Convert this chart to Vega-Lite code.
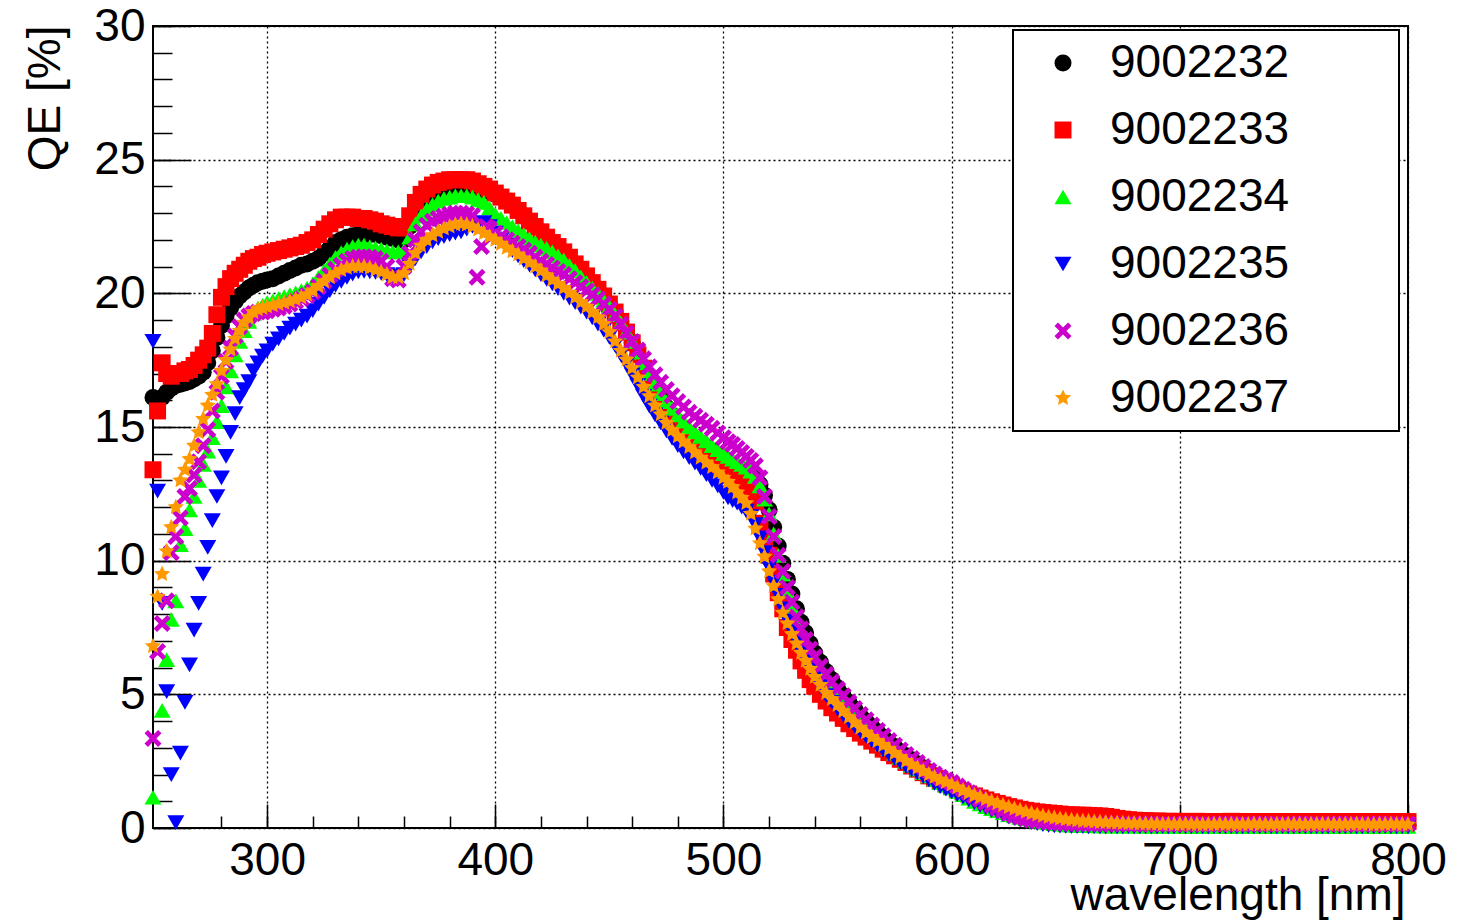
{
"$schema": "https://vega.github.io/schema/vega-lite/v6.json",
"width": 1255,
"height": 802,
"autosize": "none",
"padding": {"left": 153, "top": 26, "right": 60, "bottom": 93},
"background": "white",
"data": {"values": [
{"id":9002232,"wl":250,"qe":16.1},{"id":9002232,"wl":252,"qe":16.0},{"id":9002232,"wl":254,"qe":16.1},{"id":9002232,"wl":256,"qe":16.3},{"id":9002232,"wl":258,"qe":16.45},{"id":9002232,"wl":260,"qe":16.55},{"id":9002232,"wl":262,"qe":16.6},{"id":9002232,"wl":264,"qe":16.65},{"id":9002232,"wl":266,"qe":16.7},{"id":9002232,"wl":268,"qe":16.8},{"id":9002232,"wl":270,"qe":16.9},{"id":9002232,"wl":272,"qe":17.05},{"id":9002232,"wl":274,"qe":17.4},{"id":9002232,"wl":276,"qe":17.85},{"id":9002232,"wl":278,"qe":18.35},{"id":9002232,"wl":280,"qe":18.8},{"id":9002232,"wl":282,"qe":19.15},{"id":9002232,"wl":284,"qe":19.45},{"id":9002232,"wl":286,"qe":19.7},{"id":9002232,"wl":288,"qe":19.9},{"id":9002232,"wl":290,"qe":20.05},{"id":9002232,"wl":292,"qe":20.2},{"id":9002232,"wl":294,"qe":20.3},{"id":9002232,"wl":296,"qe":20.4},{"id":9002232,"wl":298,"qe":20.45},{"id":9002232,"wl":300,"qe":20.5},
{"id":9002232,"wl":302.5,"qe":20.55},{"id":9002232,"wl":305,"qe":20.65},{"id":9002232,"wl":307.5,"qe":20.75},{"id":9002232,"wl":310,"qe":20.85},{"id":9002232,"wl":312.5,"qe":20.95},{"id":9002232,"wl":315,"qe":21.05},{"id":9002232,"wl":317.5,"qe":21.1},{"id":9002232,"wl":320,"qe":21.2},{"id":9002232,"wl":322.5,"qe":21.3},{"id":9002232,"wl":325,"qe":21.5},{"id":9002232,"wl":327.5,"qe":21.7},{"id":9002232,"wl":330,"qe":21.9},{"id":9002232,"wl":332.5,"qe":22.0},{"id":9002232,"wl":335,"qe":22.1},{"id":9002232,"wl":337.5,"qe":22.15},{"id":9002232,"wl":340,"qe":22.2},{"id":9002232,"wl":342.5,"qe":22.2},{"id":9002232,"wl":345,"qe":22.2},{"id":9002232,"wl":347.5,"qe":22.2},{"id":9002232,"wl":350,"qe":22.15},{"id":9002232,"wl":352.5,"qe":22.1},{"id":9002232,"wl":355,"qe":22.05},{"id":9002232,"wl":357.5,"qe":22.0},{"id":9002232,"wl":360,"qe":22.0},{"id":9002232,"wl":362.5,"qe":22.5},{"id":9002232,"wl":365,"qe":23.05},{"id":9002232,"wl":367.5,"qe":23.35},{"id":9002232,"wl":370,"qe":23.55},{"id":9002232,"wl":372.5,"qe":23.7},{"id":9002232,"wl":375,"qe":23.85},{"id":9002232,"wl":377.5,"qe":23.95},{"id":9002232,"wl":380,"qe":24.0},{"id":9002232,"wl":382.5,"qe":24.0},{"id":9002232,"wl":385,"qe":24.0},{"id":9002232,"wl":387.5,"qe":24.0},{"id":9002232,"wl":390,"qe":23.95},{"id":9002232,"wl":392.5,"qe":23.9},{"id":9002232,"wl":395,"qe":23.85},{"id":9002232,"wl":397.5,"qe":23.8},{"id":9002232,"wl":400,"qe":23.7},{"id":9002232,"wl":402.5,"qe":23.6},{"id":9002232,"wl":405,"qe":23.45},{"id":9002232,"wl":407.5,"qe":23.3},{"id":9002232,"wl":410,"qe":23.1},{"id":9002232,"wl":412.5,"qe":22.9},{"id":9002232,"wl":415,"qe":22.7},{"id":9002232,"wl":417.5,"qe":22.5},{"id":9002232,"wl":420,"qe":22.3},{"id":9002232,"wl":422.5,"qe":22.1},{"id":9002232,"wl":425,"qe":21.9},{"id":9002232,"wl":427.5,"qe":21.75},{"id":9002232,"wl":430,"qe":21.55},{"id":9002232,"wl":432.5,"qe":21.35},{"id":9002232,"wl":435,"qe":21.1},{"id":9002232,"wl":437.5,"qe":20.9},{"id":9002232,"wl":440,"qe":20.65},{"id":9002232,"wl":442.5,"qe":20.4},{"id":9002232,"wl":445,"qe":20.15},{"id":9002232,"wl":447.5,"qe":19.9},{"id":9002232,"wl":450,"qe":19.6},{"id":9002232,"wl":452.5,"qe":19.3},{"id":9002232,"wl":455,"qe":18.95},{"id":9002232,"wl":457.5,"qe":18.55},{"id":9002232,"wl":460,"qe":18.15},{"id":9002232,"wl":462.5,"qe":17.7},{"id":9002232,"wl":465,"qe":17.2},{"id":9002232,"wl":467.5,"qe":16.8},{"id":9002232,"wl":470,"qe":16.4},{"id":9002232,"wl":472.5,"qe":16.05},{"id":9002232,"wl":475,"qe":15.75},{"id":9002232,"wl":477.5,"qe":15.45},{"id":9002232,"wl":480,"qe":15.2},{"id":9002232,"wl":482.5,"qe":14.95},{"id":9002232,"wl":485,"qe":14.75},{"id":9002232,"wl":487.5,"qe":14.55},{"id":9002232,"wl":490,"qe":14.4},{"id":9002232,"wl":492.5,"qe":14.25},{"id":9002232,"wl":495,"qe":14.1},{"id":9002232,"wl":497.5,"qe":13.95},{"id":9002232,"wl":500,"qe":13.8},
{"id":9002232,"wl":502,"qe":13.7},{"id":9002232,"wl":504,"qe":13.6},{"id":9002232,"wl":506,"qe":13.5},{"id":9002232,"wl":508,"qe":13.4},{"id":9002232,"wl":510,"qe":13.3},{"id":9002232,"wl":512,"qe":13.2},{"id":9002232,"wl":514,"qe":13.05},{"id":9002232,"wl":516,"qe":12.85},{"id":9002232,"wl":518,"qe":12.45},{"id":9002232,"wl":520,"qe":11.9},{"id":9002232,"wl":522,"qe":11.25},{"id":9002232,"wl":524,"qe":10.55},{"id":9002232,"wl":526,"qe":9.9},{"id":9002232,"wl":528,"qe":9.3},{"id":9002232,"wl":530,"qe":8.75},{"id":9002232,"wl":532,"qe":8.2},{"id":9002232,"wl":534,"qe":7.7},{"id":9002232,"wl":536,"qe":7.3},{"id":9002232,"wl":538,"qe":6.9},{"id":9002232,"wl":540,"qe":6.55},
{"id":9002232,"wl":542.5,"qe":6.2},{"id":9002232,"wl":545,"qe":5.85},{"id":9002232,"wl":547.5,"qe":5.55},{"id":9002232,"wl":550,"qe":5.25},{"id":9002232,"wl":552.5,"qe":4.95},{"id":9002232,"wl":555,"qe":4.7},{"id":9002232,"wl":557.5,"qe":4.45},{"id":9002232,"wl":560,"qe":4.2},{"id":9002232,"wl":562.5,"qe":4.0},{"id":9002232,"wl":565,"qe":3.8},{"id":9002232,"wl":567.5,"qe":3.6},{"id":9002232,"wl":570,"qe":3.4},{"id":9002232,"wl":572.5,"qe":3.2},{"id":9002232,"wl":575,"qe":3.05},{"id":9002232,"wl":577.5,"qe":2.85},{"id":9002232,"wl":580,"qe":2.7},{"id":9002232,"wl":582.5,"qe":2.55},{"id":9002232,"wl":585,"qe":2.4},{"id":9002232,"wl":587.5,"qe":2.25},{"id":9002232,"wl":590,"qe":2.1},{"id":9002232,"wl":592.5,"qe":1.95},{"id":9002232,"wl":595,"qe":1.85},{"id":9002232,"wl":597.5,"qe":1.7},{"id":9002232,"wl":600,"qe":1.6},{"id":9002232,"wl":602.5,"qe":1.5},{"id":9002232,"wl":605,"qe":1.4},{"id":9002232,"wl":607.5,"qe":1.25},{"id":9002232,"wl":610,"qe":1.15},{"id":9002232,"wl":612.5,"qe":1.05},{"id":9002232,"wl":615,"qe":0.95},{"id":9002232,"wl":617.5,"qe":0.85},{"id":9002232,"wl":620,"qe":0.75},{"id":9002232,"wl":622.5,"qe":0.68},{"id":9002232,"wl":625,"qe":0.6},{"id":9002232,"wl":627.5,"qe":0.52},{"id":9002232,"wl":630,"qe":0.45},{"id":9002232,"wl":632.5,"qe":0.4},{"id":9002232,"wl":635,"qe":0.35},{"id":9002232,"wl":637.5,"qe":0.3},{"id":9002232,"wl":640,"qe":0.27},{"id":9002232,"wl":642.5,"qe":0.24},{"id":9002232,"wl":645,"qe":0.22},{"id":9002232,"wl":647.5,"qe":0.2},{"id":9002232,"wl":650,"qe":0.18},{"id":9002232,"wl":652.5,"qe":0.17},{"id":9002232,"wl":655,"qe":0.16},{"id":9002232,"wl":657.5,"qe":0.16},{"id":9002232,"wl":660,"qe":0.15},{"id":9002232,"wl":662.5,"qe":0.14},{"id":9002232,"wl":665,"qe":0.14},{"id":9002232,"wl":667.5,"qe":0.13},{"id":9002232,"wl":670,"qe":0.13},{"id":9002232,"wl":672.5,"qe":0.13},{"id":9002232,"wl":675,"qe":0.12},{"id":9002232,"wl":677.5,"qe":0.13},{"id":9002232,"wl":680,"qe":0.12},{"id":9002232,"wl":682.5,"qe":0.12},{"id":9002232,"wl":685,"qe":0.11},{"id":9002232,"wl":687.5,"qe":0.12},{"id":9002232,"wl":690,"qe":0.11},{"id":9002232,"wl":692.5,"qe":0.12},{"id":9002232,"wl":695,"qe":0.11},{"id":9002232,"wl":697.5,"qe":0.11},{"id":9002232,"wl":700,"qe":0.1},{"id":9002232,"wl":702.5,"qe":0.11},{"id":9002232,"wl":705,"qe":0.1},{"id":9002232,"wl":707.5,"qe":0.11},{"id":9002232,"wl":710,"qe":0.1},{"id":9002232,"wl":712.5,"qe":0.1},{"id":9002232,"wl":715,"qe":0.11},{"id":9002232,"wl":717.5,"qe":0.1},{"id":9002232,"wl":720,"qe":0.1},{"id":9002232,"wl":722.5,"qe":0.09},{"id":9002232,"wl":725,"qe":0.1},{"id":9002232,"wl":727.5,"qe":0.1},{"id":9002232,"wl":730,"qe":0.09},{"id":9002232,"wl":732.5,"qe":0.1},{"id":9002232,"wl":735,"qe":0.1},{"id":9002232,"wl":737.5,"qe":0.09},{"id":9002232,"wl":740,"qe":0.1},{"id":9002232,"wl":742.5,"qe":0.09},{"id":9002232,"wl":745,"qe":0.1},{"id":9002232,"wl":747.5,"qe":0.1},{"id":9002232,"wl":750,"qe":0.09},{"id":9002232,"wl":752.5,"qe":0.1},{"id":9002232,"wl":755,"qe":0.1},{"id":9002232,"wl":757.5,"qe":0.09},{"id":9002232,"wl":760,"qe":0.1},{"id":9002232,"wl":762.5,"qe":0.09},{"id":9002232,"wl":765,"qe":0.1},{"id":9002232,"wl":767.5,"qe":0.1},{"id":9002232,"wl":770,"qe":0.09},{"id":9002232,"wl":772.5,"qe":0.1},{"id":9002232,"wl":775,"qe":0.1},{"id":9002232,"wl":777.5,"qe":0.09},{"id":9002232,"wl":780,"qe":0.1},{"id":9002232,"wl":782.5,"qe":0.09},{"id":9002232,"wl":785,"qe":0.1},{"id":9002232,"wl":787.5,"qe":0.1},{"id":9002232,"wl":790,"qe":0.09},{"id":9002232,"wl":792.5,"qe":0.1},{"id":9002232,"wl":795,"qe":0.1},{"id":9002232,"wl":797.5,"qe":0.09},{"id":9002232,"wl":800,"qe":0.1},
{"id":9002233,"wl":250,"qe":13.4},{"id":9002233,"wl":252,"qe":15.6},{"id":9002233,"wl":254,"qe":17.4},{"id":9002233,"wl":256,"qe":17.0},{"id":9002233,"wl":258,"qe":16.9},{"id":9002233,"wl":260,"qe":17.0},{"id":9002233,"wl":262,"qe":17.0},{"id":9002233,"wl":264,"qe":17.1},{"id":9002233,"wl":266,"qe":17.15},{"id":9002233,"wl":268,"qe":17.3},{"id":9002233,"wl":270,"qe":17.5},{"id":9002233,"wl":272,"qe":17.7},{"id":9002233,"wl":274,"qe":17.95},{"id":9002233,"wl":276,"qe":18.5},{"id":9002233,"wl":278,"qe":19.2},{"id":9002233,"wl":280,"qe":19.85},{"id":9002233,"wl":282,"qe":20.25},{"id":9002233,"wl":284,"qe":20.55},{"id":9002233,"wl":286,"qe":20.75},{"id":9002233,"wl":288,"qe":20.9},{"id":9002233,"wl":290,"qe":21.05},{"id":9002233,"wl":292,"qe":21.2},{"id":9002233,"wl":294,"qe":21.3},{"id":9002233,"wl":296,"qe":21.35},{"id":9002233,"wl":298,"qe":21.45},{"id":9002233,"wl":300,"qe":21.5},
{"id":9002233,"wl":302.5,"qe":21.55},{"id":9002233,"wl":305,"qe":21.6},{"id":9002233,"wl":307.5,"qe":21.65},{"id":9002233,"wl":310,"qe":21.7},{"id":9002233,"wl":312.5,"qe":21.75},{"id":9002233,"wl":315,"qe":21.8},{"id":9002233,"wl":317.5,"qe":21.9},{"id":9002233,"wl":320,"qe":22.0},{"id":9002233,"wl":322.5,"qe":22.2},{"id":9002233,"wl":325,"qe":22.4},{"id":9002233,"wl":327.5,"qe":22.6},{"id":9002233,"wl":330,"qe":22.75},{"id":9002233,"wl":332.5,"qe":22.85},{"id":9002233,"wl":335,"qe":22.85},{"id":9002233,"wl":337.5,"qe":22.85},{"id":9002233,"wl":340,"qe":22.8},{"id":9002233,"wl":342.5,"qe":22.8},{"id":9002233,"wl":345,"qe":22.75},{"id":9002233,"wl":347.5,"qe":22.7},{"id":9002233,"wl":350,"qe":22.6},{"id":9002233,"wl":352.5,"qe":22.55},{"id":9002233,"wl":355,"qe":22.5},{"id":9002233,"wl":357.5,"qe":22.45},{"id":9002233,"wl":360,"qe":22.45},{"id":9002233,"wl":362.5,"qe":22.9},{"id":9002233,"wl":365,"qe":23.4},{"id":9002233,"wl":367.5,"qe":23.7},{"id":9002233,"wl":370,"qe":23.9},{"id":9002233,"wl":372.5,"qe":24.05},{"id":9002233,"wl":375,"qe":24.15},{"id":9002233,"wl":377.5,"qe":24.2},{"id":9002233,"wl":380,"qe":24.25},{"id":9002233,"wl":382.5,"qe":24.25},{"id":9002233,"wl":385,"qe":24.25},{"id":9002233,"wl":387.5,"qe":24.25},{"id":9002233,"wl":390,"qe":24.2},{"id":9002233,"wl":392.5,"qe":24.1},{"id":9002233,"wl":395,"qe":24.0},{"id":9002233,"wl":397.5,"qe":23.9},{"id":9002233,"wl":400,"qe":23.75},{"id":9002233,"wl":402.5,"qe":23.6},{"id":9002233,"wl":405,"qe":23.45},{"id":9002233,"wl":407.5,"qe":23.3},{"id":9002233,"wl":410,"qe":23.1},{"id":9002233,"wl":412.5,"qe":22.9},{"id":9002233,"wl":415,"qe":22.7},{"id":9002233,"wl":417.5,"qe":22.5},{"id":9002233,"wl":420,"qe":22.3},{"id":9002233,"wl":422.5,"qe":22.1},{"id":9002233,"wl":425,"qe":21.9},{"id":9002233,"wl":427.5,"qe":21.75},{"id":9002233,"wl":430,"qe":21.55},{"id":9002233,"wl":432.5,"qe":21.35},{"id":9002233,"wl":435,"qe":21.1},{"id":9002233,"wl":437.5,"qe":20.9},{"id":9002233,"wl":440,"qe":20.65},{"id":9002233,"wl":442.5,"qe":20.4},{"id":9002233,"wl":445,"qe":20.15},{"id":9002233,"wl":447.5,"qe":19.9},{"id":9002233,"wl":450,"qe":19.6},{"id":9002233,"wl":452.5,"qe":19.3},{"id":9002233,"wl":455,"qe":18.95},{"id":9002233,"wl":457.5,"qe":18.55},{"id":9002233,"wl":460,"qe":18.15},{"id":9002233,"wl":462.5,"qe":17.7},{"id":9002233,"wl":465,"qe":17.2},{"id":9002233,"wl":467.5,"qe":16.7},{"id":9002233,"wl":470,"qe":16.2},{"id":9002233,"wl":472.5,"qe":15.75},{"id":9002233,"wl":475,"qe":15.4},{"id":9002233,"wl":477.5,"qe":15.1},{"id":9002233,"wl":480,"qe":14.9},{"id":9002233,"wl":482.5,"qe":14.7},{"id":9002233,"wl":485,"qe":14.5},{"id":9002233,"wl":487.5,"qe":14.3},{"id":9002233,"wl":490,"qe":14.15},{"id":9002233,"wl":492.5,"qe":13.95},{"id":9002233,"wl":495,"qe":13.8},{"id":9002233,"wl":497.5,"qe":13.6},{"id":9002233,"wl":500,"qe":13.45},
{"id":9002233,"wl":502,"qe":13.3},{"id":9002233,"wl":504,"qe":13.2},{"id":9002233,"wl":506,"qe":13.1},{"id":9002233,"wl":508,"qe":13.0},{"id":9002233,"wl":510,"qe":12.9},{"id":9002233,"wl":512,"qe":12.7},{"id":9002233,"wl":514,"qe":12.2},{"id":9002233,"wl":516,"qe":11.4},{"id":9002233,"wl":518,"qe":10.8},{"id":9002233,"wl":520,"qe":10.2},{"id":9002233,"wl":522,"qe":9.5},{"id":9002233,"wl":524,"qe":8.8},{"id":9002233,"wl":526,"qe":8.2},{"id":9002233,"wl":528,"qe":7.5},{"id":9002233,"wl":530,"qe":7.05},{"id":9002233,"wl":532,"qe":6.65},{"id":9002233,"wl":534,"qe":6.25},{"id":9002233,"wl":536,"qe":5.9},{"id":9002233,"wl":538,"qe":5.55},{"id":9002233,"wl":540,"qe":5.3},
{"id":9002233,"wl":542.5,"qe":5.0},{"id":9002233,"wl":545,"qe":4.75},{"id":9002233,"wl":547.5,"qe":4.5},{"id":9002233,"wl":550,"qe":4.3},{"id":9002233,"wl":552.5,"qe":4.1},{"id":9002233,"wl":555,"qe":3.9},{"id":9002233,"wl":557.5,"qe":3.72},{"id":9002233,"wl":560,"qe":3.55},{"id":9002233,"wl":562.5,"qe":3.4},{"id":9002233,"wl":565,"qe":3.25},{"id":9002233,"wl":567.5,"qe":3.1},{"id":9002233,"wl":570,"qe":2.95},{"id":9002233,"wl":572.5,"qe":2.82},{"id":9002233,"wl":575,"qe":2.7},{"id":9002233,"wl":577.5,"qe":2.57},{"id":9002233,"wl":580,"qe":2.45},{"id":9002233,"wl":582.5,"qe":2.32},{"id":9002233,"wl":585,"qe":2.2},{"id":9002233,"wl":587.5,"qe":2.07},{"id":9002233,"wl":590,"qe":1.95},{"id":9002233,"wl":592.5,"qe":1.85},{"id":9002233,"wl":595,"qe":1.75},{"id":9002233,"wl":597.5,"qe":1.65},{"id":9002233,"wl":600,"qe":1.55},{"id":9002233,"wl":602.5,"qe":1.45},{"id":9002233,"wl":605,"qe":1.35},{"id":9002233,"wl":607.5,"qe":1.27},{"id":9002233,"wl":610,"qe":1.2},{"id":9002233,"wl":612.5,"qe":1.12},{"id":9002233,"wl":615,"qe":1.05},{"id":9002233,"wl":617.5,"qe":0.98},{"id":9002233,"wl":620,"qe":0.92},{"id":9002233,"wl":622.5,"qe":0.86},{"id":9002233,"wl":625,"qe":0.8},{"id":9002233,"wl":627.5,"qe":0.75},{"id":9002233,"wl":630,"qe":0.7},{"id":9002233,"wl":632.5,"qe":0.66},{"id":9002233,"wl":635,"qe":0.63},{"id":9002233,"wl":637.5,"qe":0.6},{"id":9002233,"wl":640,"qe":0.58},{"id":9002233,"wl":642.5,"qe":0.56},{"id":9002233,"wl":645,"qe":0.54},{"id":9002233,"wl":647.5,"qe":0.52},{"id":9002233,"wl":650,"qe":0.5},{"id":9002233,"wl":652.5,"qe":0.49},{"id":9002233,"wl":655,"qe":0.48},{"id":9002233,"wl":657.5,"qe":0.48},{"id":9002233,"wl":660,"qe":0.47},{"id":9002233,"wl":662.5,"qe":0.46},{"id":9002233,"wl":665,"qe":0.45},{"id":9002233,"wl":667.5,"qe":0.43},{"id":9002233,"wl":670,"qe":0.4},{"id":9002233,"wl":672.5,"qe":0.36},{"id":9002233,"wl":675,"qe":0.33},{"id":9002233,"wl":677.5,"qe":0.31},{"id":9002233,"wl":680,"qe":0.29},{"id":9002233,"wl":682.5,"qe":0.28},{"id":9002233,"wl":685,"qe":0.27},{"id":9002233,"wl":687.5,"qe":0.26},{"id":9002233,"wl":690,"qe":0.26},{"id":9002233,"wl":692.5,"qe":0.25},{"id":9002233,"wl":695,"qe":0.25},{"id":9002233,"wl":697.5,"qe":0.24},{"id":9002233,"wl":700,"qe":0.25},{"id":9002233,"wl":702.5,"qe":0.24},{"id":9002233,"wl":705,"qe":0.24},{"id":9002233,"wl":707.5,"qe":0.25},{"id":9002233,"wl":710,"qe":0.24},{"id":9002233,"wl":712.5,"qe":0.24},{"id":9002233,"wl":715,"qe":0.23},{"id":9002233,"wl":717.5,"qe":0.24},{"id":9002233,"wl":720,"qe":0.24},{"id":9002233,"wl":722.5,"qe":0.25},{"id":9002233,"wl":725,"qe":0.24},{"id":9002233,"wl":727.5,"qe":0.24},{"id":9002233,"wl":730,"qe":0.23},{"id":9002233,"wl":732.5,"qe":0.24},{"id":9002233,"wl":735,"qe":0.24},{"id":9002233,"wl":737.5,"qe":0.23},{"id":9002233,"wl":740,"qe":0.24},{"id":9002233,"wl":742.5,"qe":0.24},{"id":9002233,"wl":745,"qe":0.23},{"id":9002233,"wl":747.5,"qe":0.24},{"id":9002233,"wl":750,"qe":0.24},{"id":9002233,"wl":752.5,"qe":0.23},{"id":9002233,"wl":755,"qe":0.24},{"id":9002233,"wl":757.5,"qe":0.24},{"id":9002233,"wl":760,"qe":0.23},{"id":9002233,"wl":762.5,"qe":0.24},{"id":9002233,"wl":765,"qe":0.24},{"id":9002233,"wl":767.5,"qe":0.23},{"id":9002233,"wl":770,"qe":0.24},{"id":9002233,"wl":772.5,"qe":0.24},{"id":9002233,"wl":775,"qe":0.23},{"id":9002233,"wl":777.5,"qe":0.24},{"id":9002233,"wl":780,"qe":0.24},{"id":9002233,"wl":782.5,"qe":0.23},{"id":9002233,"wl":785,"qe":0.24},{"id":9002233,"wl":787.5,"qe":0.24},{"id":9002233,"wl":790,"qe":0.23},{"id":9002233,"wl":792.5,"qe":0.24},{"id":9002233,"wl":795,"qe":0.24},{"id":9002233,"wl":797.5,"qe":0.23},{"id":9002233,"wl":800,"qe":0.24},
{"id":9002234,"wl":250,"qe":1.15},{"id":9002234,"wl":254,"qe":4.4},{"id":9002234,"wl":256,"qe":6.3},{"id":9002234,"wl":258,"qe":7.8},{"id":9002234,"wl":260,"qe":8.5},{"id":9002234,"wl":262,"qe":10.6},{"id":9002234,"wl":264,"qe":11.2},{"id":9002234,"wl":266,"qe":11.9},{"id":9002234,"wl":268,"qe":12.4},{"id":9002234,"wl":270,"qe":13.0},{"id":9002234,"wl":272,"qe":13.6},{"id":9002234,"wl":274,"qe":14.1},{"id":9002234,"wl":276,"qe":14.6},{"id":9002234,"wl":278,"qe":15.2},{"id":9002234,"wl":280,"qe":15.8},{"id":9002234,"wl":282,"qe":16.5},{"id":9002234,"wl":284,"qe":17.1},{"id":9002234,"wl":286,"qe":17.7},{"id":9002234,"wl":288,"qe":18.2},{"id":9002234,"wl":290,"qe":18.6},{"id":9002234,"wl":292,"qe":18.95},{"id":9002234,"wl":294,"qe":19.25},{"id":9002234,"wl":296,"qe":19.45},{"id":9002234,"wl":298,"qe":19.55},{"id":9002234,"wl":300,"qe":19.65},
{"id":9002234,"wl":302.5,"qe":19.72},{"id":9002234,"wl":305,"qe":19.8},{"id":9002234,"wl":307.5,"qe":19.88},{"id":9002234,"wl":310,"qe":19.95},{"id":9002234,"wl":312.5,"qe":20.02},{"id":9002234,"wl":315,"qe":20.1},{"id":9002234,"wl":317.5,"qe":20.2},{"id":9002234,"wl":320,"qe":20.35},{"id":9002234,"wl":322.5,"qe":20.6},{"id":9002234,"wl":325,"qe":20.85},{"id":9002234,"wl":327.5,"qe":21.1},{"id":9002234,"wl":330,"qe":21.35},{"id":9002234,"wl":332.5,"qe":21.52},{"id":9002234,"wl":335,"qe":21.65},{"id":9002234,"wl":337.5,"qe":21.75},{"id":9002234,"wl":340,"qe":21.8},{"id":9002234,"wl":342.5,"qe":21.8},{"id":9002234,"wl":345,"qe":21.75},{"id":9002234,"wl":347.5,"qe":21.7},{"id":9002234,"wl":350,"qe":21.65},{"id":9002234,"wl":352.5,"qe":21.6},{"id":9002234,"wl":355,"qe":21.55},{"id":9002234,"wl":357.5,"qe":21.55},{"id":9002234,"wl":360,"qe":21.6},{"id":9002234,"wl":362.5,"qe":22.1},{"id":9002234,"wl":365,"qe":22.6},{"id":9002234,"wl":367.5,"qe":22.9},{"id":9002234,"wl":370,"qe":23.15},{"id":9002234,"wl":372.5,"qe":23.32},{"id":9002234,"wl":375,"qe":23.45},{"id":9002234,"wl":377.5,"qe":23.55},{"id":9002234,"wl":380,"qe":23.6},{"id":9002234,"wl":382.5,"qe":23.65},{"id":9002234,"wl":385,"qe":23.65},{"id":9002234,"wl":387.5,"qe":23.65},{"id":9002234,"wl":390,"qe":23.6},{"id":9002234,"wl":392.5,"qe":23.5},{"id":9002234,"wl":395,"qe":23.4},{"id":9002234,"wl":397.5,"qe":23.2},{"id":9002234,"wl":400,"qe":22.95},{"id":9002234,"wl":402.5,"qe":22.8},{"id":9002234,"wl":405,"qe":22.65},{"id":9002234,"wl":407.5,"qe":22.5},{"id":9002234,"wl":410,"qe":22.35},{"id":9002234,"wl":412.5,"qe":22.2},{"id":9002234,"wl":415,"qe":22.05},{"id":9002234,"wl":417.5,"qe":21.92},{"id":9002234,"wl":420,"qe":21.8},{"id":9002234,"wl":422.5,"qe":21.68},{"id":9002234,"wl":425,"qe":21.55},{"id":9002234,"wl":427.5,"qe":21.4},{"id":9002234,"wl":430,"qe":21.25},{"id":9002234,"wl":432.5,"qe":21.05},{"id":9002234,"wl":435,"qe":20.85},{"id":9002234,"wl":437.5,"qe":20.62},{"id":9002234,"wl":440,"qe":20.4},{"id":9002234,"wl":442.5,"qe":20.2},{"id":9002234,"wl":445,"qe":20.0},{"id":9002234,"wl":447.5,"qe":19.75},{"id":9002234,"wl":450,"qe":19.5},{"id":9002234,"wl":452.5,"qe":19.2},{"id":9002234,"wl":455,"qe":18.9},{"id":9002234,"wl":457.5,"qe":18.55},{"id":9002234,"wl":460,"qe":18.2},{"id":9002234,"wl":462.5,"qe":17.8},{"id":9002234,"wl":465,"qe":17.4},{"id":9002234,"wl":467.5,"qe":17.0},{"id":9002234,"wl":470,"qe":16.6},{"id":9002234,"wl":472.5,"qe":16.25},{"id":9002234,"wl":475,"qe":15.95},{"id":9002234,"wl":477.5,"qe":15.7},{"id":9002234,"wl":480,"qe":15.45},{"id":9002234,"wl":482.5,"qe":15.22},{"id":9002234,"wl":485,"qe":15.0},{"id":9002234,"wl":487.5,"qe":14.82},{"id":9002234,"wl":490,"qe":14.65},{"id":9002234,"wl":492.5,"qe":14.48},{"id":9002234,"wl":495,"qe":14.3},{"id":9002234,"wl":497.5,"qe":14.15},{"id":9002234,"wl":500,"qe":14.0},
{"id":9002234,"wl":502,"qe":13.9},{"id":9002234,"wl":504,"qe":13.8},{"id":9002234,"wl":506,"qe":13.7},{"id":9002234,"wl":508,"qe":13.6},{"id":9002234,"wl":510,"qe":13.5},{"id":9002234,"wl":512,"qe":13.35},{"id":9002234,"wl":514,"qe":13.15},{"id":9002234,"wl":516,"qe":12.8},{"id":9002234,"wl":518,"qe":12.3},{"id":9002234,"wl":520,"qe":11.75},{"id":9002234,"wl":522,"qe":11.0},{"id":9002234,"wl":524,"qe":10.2},{"id":9002234,"wl":526,"qe":9.5},{"id":9002234,"wl":528,"qe":8.85},{"id":9002234,"wl":530,"qe":8.25},{"id":9002234,"wl":532,"qe":7.75},{"id":9002234,"wl":534,"qe":7.3},{"id":9002234,"wl":536,"qe":6.9},{"id":9002234,"wl":538,"qe":6.55},{"id":9002234,"wl":540,"qe":6.2},
{"id":9002234,"wl":542.5,"qe":5.85},{"id":9002234,"wl":545,"qe":5.5},{"id":9002234,"wl":547.5,"qe":5.2},{"id":9002234,"wl":550,"qe":4.9},{"id":9002234,"wl":552.5,"qe":4.65},{"id":9002234,"wl":555,"qe":4.4},{"id":9002234,"wl":557.5,"qe":4.17},{"id":9002234,"wl":560,"qe":3.95},{"id":9002234,"wl":562.5,"qe":3.75},{"id":9002234,"wl":565,"qe":3.55},{"id":9002234,"wl":567.5,"qe":3.35},{"id":9002234,"wl":570,"qe":3.15},{"id":9002234,"wl":572.5,"qe":2.97},{"id":9002234,"wl":575,"qe":2.8},{"id":9002234,"wl":577.5,"qe":2.65},{"id":9002234,"wl":580,"qe":2.5},{"id":9002234,"wl":582.5,"qe":2.35},{"id":9002234,"wl":585,"qe":2.2},{"id":9002234,"wl":587.5,"qe":2.07},{"id":9002234,"wl":590,"qe":1.95},{"id":9002234,"wl":592.5,"qe":1.82},{"id":9002234,"wl":595,"qe":1.7},{"id":9002234,"wl":597.5,"qe":1.6},{"id":9002234,"wl":600,"qe":1.5},{"id":9002234,"wl":602.5,"qe":1.37},{"id":9002234,"wl":605,"qe":1.25},{"id":9002234,"wl":607.5,"qe":1.12},{"id":9002234,"wl":610,"qe":1.0},{"id":9002234,"wl":612.5,"qe":0.9},{"id":9002234,"wl":615,"qe":0.8},{"id":9002234,"wl":617.5,"qe":0.72},{"id":9002234,"wl":620,"qe":0.65},{"id":9002234,"wl":622.5,"qe":0.57},{"id":9002234,"wl":625,"qe":0.5},{"id":9002234,"wl":627.5,"qe":0.45},{"id":9002234,"wl":630,"qe":0.4},{"id":9002234,"wl":632.5,"qe":0.35},{"id":9002234,"wl":635,"qe":0.3},{"id":9002234,"wl":637.5,"qe":0.26},{"id":9002234,"wl":640,"qe":0.22},{"id":9002234,"wl":642.5,"qe":0.19},{"id":9002234,"wl":645,"qe":0.16},{"id":9002234,"wl":647.5,"qe":0.14},{"id":9002234,"wl":650,"qe":0.12},{"id":9002234,"wl":652.5,"qe":0.11},{"id":9002234,"wl":655,"qe":0.1},{"id":9002234,"wl":657.5,"qe":0.1},{"id":9002234,"wl":660,"qe":0.09},{"id":9002234,"wl":662.5,"qe":0.08},{"id":9002234,"wl":665,"qe":0.08},{"id":9002234,"wl":667.5,"qe":0.08},{"id":9002234,"wl":670,"qe":0.07},{"id":9002234,"wl":672.5,"qe":0.08},{"id":9002234,"wl":675,"qe":0.07},{"id":9002234,"wl":677.5,"qe":0.07},{"id":9002234,"wl":680,"qe":0.08},{"id":9002234,"wl":682.5,"qe":0.07},{"id":9002234,"wl":685,"qe":0.07},{"id":9002234,"wl":687.5,"qe":0.06},{"id":9002234,"wl":690,"qe":0.07},{"id":9002234,"wl":692.5,"qe":0.07},{"id":9002234,"wl":695,"qe":0.06},{"id":9002234,"wl":697.5,"qe":0.07},{"id":9002234,"wl":700,"qe":0.07},{"id":9002234,"wl":702.5,"qe":0.06},{"id":9002234,"wl":705,"qe":0.07},{"id":9002234,"wl":707.5,"qe":0.06},{"id":9002234,"wl":710,"qe":0.07},{"id":9002234,"wl":712.5,"qe":0.06},{"id":9002234,"wl":715,"qe":0.06},{"id":9002234,"wl":717.5,"qe":0.07},{"id":9002234,"wl":720,"qe":0.06},{"id":9002234,"wl":722.5,"qe":0.07},{"id":9002234,"wl":725,"qe":0.06},{"id":9002234,"wl":727.5,"qe":0.06},{"id":9002234,"wl":730,"qe":0.07},{"id":9002234,"wl":732.5,"qe":0.06},{"id":9002234,"wl":735,"qe":0.06},{"id":9002234,"wl":737.5,"qe":0.07},{"id":9002234,"wl":740,"qe":0.06},{"id":9002234,"wl":742.5,"qe":0.06},{"id":9002234,"wl":745,"qe":0.07},{"id":9002234,"wl":747.5,"qe":0.06},{"id":9002234,"wl":750,"qe":0.06},{"id":9002234,"wl":752.5,"qe":0.07},{"id":9002234,"wl":755,"qe":0.06},{"id":9002234,"wl":757.5,"qe":0.06},{"id":9002234,"wl":760,"qe":0.07},{"id":9002234,"wl":762.5,"qe":0.06},{"id":9002234,"wl":765,"qe":0.06},{"id":9002234,"wl":767.5,"qe":0.07},{"id":9002234,"wl":770,"qe":0.06},{"id":9002234,"wl":772.5,"qe":0.06},{"id":9002234,"wl":775,"qe":0.07},{"id":9002234,"wl":777.5,"qe":0.06},{"id":9002234,"wl":780,"qe":0.06},{"id":9002234,"wl":782.5,"qe":0.07},{"id":9002234,"wl":785,"qe":0.06},{"id":9002234,"wl":787.5,"qe":0.06},{"id":9002234,"wl":790,"qe":0.07},{"id":9002234,"wl":792.5,"qe":0.06},{"id":9002234,"wl":795,"qe":0.06},{"id":9002234,"wl":797.5,"qe":0.07},{"id":9002234,"wl":800,"qe":0.06},
{"id":9002235,"wl":250,"qe":18.2},{"id":9002235,"wl":252,"qe":12.6},{"id":9002235,"wl":254,"qe":8.4},{"id":9002235,"wl":256,"qe":5.1},{"id":9002235,"wl":258,"qe":2.0},{"id":9002235,"wl":260,"qe":0.2},{"id":9002235,"wl":262,"qe":2.8},{"id":9002235,"wl":264,"qe":4.7},{"id":9002235,"wl":266,"qe":6.1},{"id":9002235,"wl":268,"qe":7.4},{"id":9002235,"wl":270,"qe":8.4},{"id":9002235,"wl":272,"qe":9.5},{"id":9002235,"wl":274,"qe":10.5},{"id":9002235,"wl":276,"qe":11.5},{"id":9002235,"wl":278,"qe":12.4},{"id":9002235,"wl":280,"qe":13.1},{"id":9002235,"wl":282,"qe":13.9},{"id":9002235,"wl":284,"qe":14.8},{"id":9002235,"wl":286,"qe":15.5},{"id":9002235,"wl":288,"qe":16.1},{"id":9002235,"wl":290,"qe":16.4},{"id":9002235,"wl":292,"qe":16.7},{"id":9002235,"wl":294,"qe":17.1},{"id":9002235,"wl":296,"qe":17.4},{"id":9002235,"wl":298,"qe":17.65},{"id":9002235,"wl":300,"qe":17.85},
{"id":9002235,"wl":302.5,"qe":18.1},{"id":9002235,"wl":305,"qe":18.3},{"id":9002235,"wl":307.5,"qe":18.5},{"id":9002235,"wl":310,"qe":18.7},{"id":9002235,"wl":312.5,"qe":18.85},{"id":9002235,"wl":315,"qe":19.0},{"id":9002235,"wl":317.5,"qe":19.15},{"id":9002235,"wl":320,"qe":19.35},{"id":9002235,"wl":322.5,"qe":19.6},{"id":9002235,"wl":325,"qe":19.85},{"id":9002235,"wl":327.5,"qe":20.1},{"id":9002235,"wl":330,"qe":20.3},{"id":9002235,"wl":332.5,"qe":20.45},{"id":9002235,"wl":335,"qe":20.6},{"id":9002235,"wl":337.5,"qe":20.72},{"id":9002235,"wl":340,"qe":20.8},{"id":9002235,"wl":342.5,"qe":20.82},{"id":9002235,"wl":345,"qe":20.8},{"id":9002235,"wl":347.5,"qe":20.78},{"id":9002235,"wl":350,"qe":20.75},{"id":9002235,"wl":352.5,"qe":20.7},{"id":9002235,"wl":355,"qe":20.65},{"id":9002235,"wl":357.5,"qe":20.62},{"id":9002235,"wl":360,"qe":20.7},{"id":9002235,"wl":362.5,"qe":21.0},{"id":9002235,"wl":365,"qe":21.3},{"id":9002235,"wl":367.5,"qe":21.55},{"id":9002235,"wl":370,"qe":21.75},{"id":9002235,"wl":372.5,"qe":21.92},{"id":9002235,"wl":375,"qe":22.05},{"id":9002235,"wl":377.5,"qe":22.12},{"id":9002235,"wl":380,"qe":22.2},{"id":9002235,"wl":382.5,"qe":22.25},{"id":9002235,"wl":385,"qe":22.3},{"id":9002235,"wl":387.5,"qe":22.4},{"id":9002235,"wl":390,"qe":22.5},{"id":9002235,"wl":392.5,"qe":22.6},{"id":9002235,"wl":395,"qe":22.65},{"id":9002235,"wl":397.5,"qe":22.5},{"id":9002235,"wl":400,"qe":22.25},{"id":9002235,"wl":402.5,"qe":22.0},{"id":9002235,"wl":405,"qe":21.8},{"id":9002235,"wl":407.5,"qe":21.6},{"id":9002235,"wl":410,"qe":21.4},{"id":9002235,"wl":412.5,"qe":21.22},{"id":9002235,"wl":415,"qe":21.05},{"id":9002235,"wl":417.5,"qe":20.88},{"id":9002235,"wl":420,"qe":20.7},{"id":9002235,"wl":422.5,"qe":20.52},{"id":9002235,"wl":425,"qe":20.35},{"id":9002235,"wl":427.5,"qe":20.18},{"id":9002235,"wl":430,"qe":20.0},{"id":9002235,"wl":432.5,"qe":19.82},{"id":9002235,"wl":435,"qe":19.65},{"id":9002235,"wl":437.5,"qe":19.48},{"id":9002235,"wl":440,"qe":19.3},{"id":9002235,"wl":442.5,"qe":19.08},{"id":9002235,"wl":445,"qe":18.85},{"id":9002235,"wl":447.5,"qe":18.62},{"id":9002235,"wl":450,"qe":18.35},{"id":9002235,"wl":452.5,"qe":18.05},{"id":9002235,"wl":455,"qe":17.7},{"id":9002235,"wl":457.5,"qe":17.35},{"id":9002235,"wl":460,"qe":16.95},{"id":9002235,"wl":462.5,"qe":16.55},{"id":9002235,"wl":465,"qe":16.15},{"id":9002235,"wl":467.5,"qe":15.78},{"id":9002235,"wl":470,"qe":15.45},{"id":9002235,"wl":472.5,"qe":15.15},{"id":9002235,"wl":475,"qe":14.85},{"id":9002235,"wl":477.5,"qe":14.57},{"id":9002235,"wl":480,"qe":14.3},{"id":9002235,"wl":482.5,"qe":14.07},{"id":9002235,"wl":485,"qe":13.85},{"id":9002235,"wl":487.5,"qe":13.65},{"id":9002235,"wl":490,"qe":13.45},{"id":9002235,"wl":492.5,"qe":13.22},{"id":9002235,"wl":495,"qe":13.0},{"id":9002235,"wl":497.5,"qe":12.8},{"id":9002235,"wl":500,"qe":12.55},
{"id":9002235,"wl":502,"qe":12.35},{"id":9002235,"wl":504,"qe":12.25},{"id":9002235,"wl":506,"qe":12.15},{"id":9002235,"wl":508,"qe":12.0},{"id":9002235,"wl":510,"qe":11.85},{"id":9002235,"wl":512,"qe":11.65},{"id":9002235,"wl":514,"qe":11.35},{"id":9002235,"wl":516,"qe":10.85},{"id":9002235,"wl":518,"qe":10.3},{"id":9002235,"wl":520,"qe":9.75},{"id":9002235,"wl":522,"qe":9.2},{"id":9002235,"wl":524,"qe":8.7},{"id":9002235,"wl":526,"qe":8.2},{"id":9002235,"wl":528,"qe":7.75},{"id":9002235,"wl":530,"qe":7.35},{"id":9002235,"wl":532,"qe":6.95},{"id":9002235,"wl":534,"qe":6.6},{"id":9002235,"wl":536,"qe":6.25},{"id":9002235,"wl":538,"qe":5.95},{"id":9002235,"wl":540,"qe":5.65},
{"id":9002235,"wl":542.5,"qe":5.3},{"id":9002235,"wl":545,"qe":4.95},{"id":9002235,"wl":547.5,"qe":4.7},{"id":9002235,"wl":550,"qe":4.45},{"id":9002235,"wl":552.5,"qe":4.22},{"id":9002235,"wl":555,"qe":4.0},{"id":9002235,"wl":557.5,"qe":3.8},{"id":9002235,"wl":560,"qe":3.6},{"id":9002235,"wl":562.5,"qe":3.42},{"id":9002235,"wl":565,"qe":3.25},{"id":9002235,"wl":567.5,"qe":3.07},{"id":9002235,"wl":570,"qe":2.9},{"id":9002235,"wl":572.5,"qe":2.75},{"id":9002235,"wl":575,"qe":2.6},{"id":9002235,"wl":577.5,"qe":2.45},{"id":9002235,"wl":580,"qe":2.3},{"id":9002235,"wl":582.5,"qe":2.17},{"id":9002235,"wl":585,"qe":2.05},{"id":9002235,"wl":587.5,"qe":1.92},{"id":9002235,"wl":590,"qe":1.8},{"id":9002235,"wl":592.5,"qe":1.67},{"id":9002235,"wl":595,"qe":1.55},{"id":9002235,"wl":597.5,"qe":1.45},{"id":9002235,"wl":600,"qe":1.35},{"id":9002235,"wl":602.5,"qe":1.25},{"id":9002235,"wl":605,"qe":1.15},{"id":9002235,"wl":607.5,"qe":1.05},{"id":9002235,"wl":610,"qe":0.95},{"id":9002235,"wl":612.5,"qe":0.85},{"id":9002235,"wl":615,"qe":0.75},{"id":9002235,"wl":617.5,"qe":0.66},{"id":9002235,"wl":620,"qe":0.58},{"id":9002235,"wl":622.5,"qe":0.5},{"id":9002235,"wl":625,"qe":0.42},{"id":9002235,"wl":627.5,"qe":0.36},{"id":9002235,"wl":630,"qe":0.3},{"id":9002235,"wl":632.5,"qe":0.25},{"id":9002235,"wl":635,"qe":0.2},{"id":9002235,"wl":637.5,"qe":0.16},{"id":9002235,"wl":640,"qe":0.13},{"id":9002235,"wl":642.5,"qe":0.1},{"id":9002235,"wl":645,"qe":0.08},{"id":9002235,"wl":647.5,"qe":0.07},{"id":9002235,"wl":650,"qe":0.06},{"id":9002235,"wl":652.5,"qe":0.05},{"id":9002235,"wl":655,"qe":0.05},{"id":9002235,"wl":657.5,"qe":0.05},{"id":9002235,"wl":660,"qe":0.04},{"id":9002235,"wl":662.5,"qe":0.05},{"id":9002235,"wl":665,"qe":0.04},{"id":9002235,"wl":667.5,"qe":0.04},{"id":9002235,"wl":670,"qe":0.05},{"id":9002235,"wl":672.5,"qe":0.04},{"id":9002235,"wl":675,"qe":0.04},{"id":9002235,"wl":677.5,"qe":0.05},{"id":9002235,"wl":680,"qe":0.04},{"id":9002235,"wl":682.5,"qe":0.04},{"id":9002235,"wl":685,"qe":0.05},{"id":9002235,"wl":687.5,"qe":0.04},{"id":9002235,"wl":690,"qe":0.04},{"id":9002235,"wl":692.5,"qe":0.05},{"id":9002235,"wl":695,"qe":0.04},{"id":9002235,"wl":697.5,"qe":0.04},{"id":9002235,"wl":700,"qe":0.05},{"id":9002235,"wl":702.5,"qe":0.04},{"id":9002235,"wl":705,"qe":0.04},{"id":9002235,"wl":707.5,"qe":0.05},{"id":9002235,"wl":710,"qe":0.04},{"id":9002235,"wl":712.5,"qe":0.04},{"id":9002235,"wl":715,"qe":0.05},{"id":9002235,"wl":717.5,"qe":0.04},{"id":9002235,"wl":720,"qe":0.04},{"id":9002235,"wl":722.5,"qe":0.05},{"id":9002235,"wl":725,"qe":0.04},{"id":9002235,"wl":727.5,"qe":0.04},{"id":9002235,"wl":730,"qe":0.05},{"id":9002235,"wl":732.5,"qe":0.04},{"id":9002235,"wl":735,"qe":0.04},{"id":9002235,"wl":737.5,"qe":0.05},{"id":9002235,"wl":740,"qe":0.04},{"id":9002235,"wl":742.5,"qe":0.04},{"id":9002235,"wl":745,"qe":0.05},{"id":9002235,"wl":747.5,"qe":0.04},{"id":9002235,"wl":750,"qe":0.04},{"id":9002235,"wl":752.5,"qe":0.05},{"id":9002235,"wl":755,"qe":0.04},{"id":9002235,"wl":757.5,"qe":0.04},{"id":9002235,"wl":760,"qe":0.05},{"id":9002235,"wl":762.5,"qe":0.04},{"id":9002235,"wl":765,"qe":0.04},{"id":9002235,"wl":767.5,"qe":0.05},{"id":9002235,"wl":770,"qe":0.04},{"id":9002235,"wl":772.5,"qe":0.04},{"id":9002235,"wl":775,"qe":0.05},{"id":9002235,"wl":777.5,"qe":0.04},{"id":9002235,"wl":780,"qe":0.04},{"id":9002235,"wl":782.5,"qe":0.05},{"id":9002235,"wl":785,"qe":0.04},{"id":9002235,"wl":787.5,"qe":0.04},{"id":9002235,"wl":790,"qe":0.05},{"id":9002235,"wl":792.5,"qe":0.04},{"id":9002235,"wl":795,"qe":0.04},{"id":9002235,"wl":797.5,"qe":0.05},{"id":9002235,"wl":800,"qe":0.04},
{"id":9002236,"wl":250,"qe":3.35},{"id":9002236,"wl":252,"qe":6.6},{"id":9002236,"wl":254,"qe":7.65},{"id":9002236,"wl":256,"qe":8.5},{"id":9002236,"wl":258,"qe":10.3},{"id":9002236,"wl":260,"qe":10.9},{"id":9002236,"wl":262,"qe":11.6},{"id":9002236,"wl":264,"qe":12.4},{"id":9002236,"wl":266,"qe":12.7},{"id":9002236,"wl":268,"qe":13.2},{"id":9002236,"wl":270,"qe":13.7},{"id":9002236,"wl":272,"qe":14.3},{"id":9002236,"wl":274,"qe":14.9},{"id":9002236,"wl":276,"qe":15.6},{"id":9002236,"wl":278,"qe":16.3},{"id":9002236,"wl":280,"qe":16.9},{"id":9002236,"wl":282,"qe":17.45},{"id":9002236,"wl":284,"qe":17.95},{"id":9002236,"wl":286,"qe":18.4},{"id":9002236,"wl":288,"qe":18.75},{"id":9002236,"wl":290,"qe":19.0},{"id":9002236,"wl":292,"qe":19.15},{"id":9002236,"wl":294,"qe":19.25},{"id":9002236,"wl":296,"qe":19.3},{"id":9002236,"wl":298,"qe":19.3},{"id":9002236,"wl":300,"qe":19.35},
{"id":9002236,"wl":302.5,"qe":19.4},{"id":9002236,"wl":305,"qe":19.45},{"id":9002236,"wl":307.5,"qe":19.52},{"id":9002236,"wl":310,"qe":19.6},{"id":9002236,"wl":312.5,"qe":19.7},{"id":9002236,"wl":315,"qe":19.8},{"id":9002236,"wl":317.5,"qe":19.92},{"id":9002236,"wl":320,"qe":20.05},{"id":9002236,"wl":322.5,"qe":20.25},{"id":9002236,"wl":325,"qe":20.45},{"id":9002236,"wl":327.5,"qe":20.68},{"id":9002236,"wl":330,"qe":20.9},{"id":9002236,"wl":332.5,"qe":21.05},{"id":9002236,"wl":335,"qe":21.2},{"id":9002236,"wl":337.5,"qe":21.3},{"id":9002236,"wl":340,"qe":21.35},{"id":9002236,"wl":342.5,"qe":21.37},{"id":9002236,"wl":345,"qe":21.35},{"id":9002236,"wl":347.5,"qe":21.3},{"id":9002236,"wl":350,"qe":21.2},{"id":9002236,"wl":352.5,"qe":21.0},{"id":9002236,"wl":355,"qe":20.55},{"id":9002236,"wl":357.5,"qe":20.5},{"id":9002236,"wl":360,"qe":21.0},{"id":9002236,"wl":362.5,"qe":21.5},{"id":9002236,"wl":365,"qe":22.0},{"id":9002236,"wl":367.5,"qe":22.3},{"id":9002236,"wl":370,"qe":22.55},{"id":9002236,"wl":372.5,"qe":22.7},{"id":9002236,"wl":375,"qe":22.8},{"id":9002236,"wl":377.5,"qe":22.88},{"id":9002236,"wl":380,"qe":22.95},{"id":9002236,"wl":382.5,"qe":23.0},{"id":9002236,"wl":385,"qe":23.0},{"id":9002236,"wl":387.5,"qe":22.97},{"id":9002236,"wl":390,"qe":22.9},{"id":9002236,"wl":392,"qe":20.6},{"id":9002236,"wl":394,"qe":21.75},{"id":9002236,"wl":396,"qe":22.5},{"id":9002236,"wl":397.5,"qe":22.4},{"id":9002236,"wl":400,"qe":22.25},{"id":9002236,"wl":402.5,"qe":22.12},{"id":9002236,"wl":405,"qe":22.0},{"id":9002236,"wl":407.5,"qe":21.88},{"id":9002236,"wl":410,"qe":21.75},{"id":9002236,"wl":412.5,"qe":21.62},{"id":9002236,"wl":415,"qe":21.5},{"id":9002236,"wl":417.5,"qe":21.35},{"id":9002236,"wl":420,"qe":21.2},{"id":9002236,"wl":422.5,"qe":21.08},{"id":9002236,"wl":425,"qe":20.95},{"id":9002236,"wl":427.5,"qe":20.82},{"id":9002236,"wl":430,"qe":20.7},{"id":9002236,"wl":432.5,"qe":20.55},{"id":9002236,"wl":435,"qe":20.4},{"id":9002236,"wl":437.5,"qe":20.25},{"id":9002236,"wl":440,"qe":20.1},{"id":9002236,"wl":442.5,"qe":19.95},{"id":9002236,"wl":445,"qe":19.8},{"id":9002236,"wl":447.5,"qe":19.6},{"id":9002236,"wl":450,"qe":19.4},{"id":9002236,"wl":452.5,"qe":19.15},{"id":9002236,"wl":455,"qe":18.85},{"id":9002236,"wl":457.5,"qe":18.52},{"id":9002236,"wl":460,"qe":18.2},{"id":9002236,"wl":462.5,"qe":17.88},{"id":9002236,"wl":465,"qe":17.55},{"id":9002236,"wl":467.5,"qe":17.25},{"id":9002236,"wl":470,"qe":16.95},{"id":9002236,"wl":472.5,"qe":16.67},{"id":9002236,"wl":475,"qe":16.4},{"id":9002236,"wl":477.5,"qe":16.17},{"id":9002236,"wl":480,"qe":15.95},{"id":9002236,"wl":482.5,"qe":15.75},{"id":9002236,"wl":485,"qe":15.55},{"id":9002236,"wl":487.5,"qe":15.4},{"id":9002236,"wl":490,"qe":15.25},{"id":9002236,"wl":492.5,"qe":15.1},{"id":9002236,"wl":495,"qe":14.95},{"id":9002236,"wl":497.5,"qe":14.78},{"id":9002236,"wl":500,"qe":14.6},
{"id":9002236,"wl":502,"qe":14.45},{"id":9002236,"wl":504,"qe":14.35},{"id":9002236,"wl":506,"qe":14.2},{"id":9002236,"wl":508,"qe":14.05},{"id":9002236,"wl":510,"qe":13.9},{"id":9002236,"wl":512,"qe":13.75},{"id":9002236,"wl":514,"qe":13.55},{"id":9002236,"wl":516,"qe":13.1},{"id":9002236,"wl":518,"qe":12.4},{"id":9002236,"wl":520,"qe":11.65},{"id":9002236,"wl":522,"qe":10.9},{"id":9002236,"wl":524,"qe":10.2},{"id":9002236,"wl":526,"qe":9.6},{"id":9002236,"wl":528,"qe":9.0},{"id":9002236,"wl":530,"qe":8.45},{"id":9002236,"wl":532,"qe":7.9},{"id":9002236,"wl":534,"qe":7.45},{"id":9002236,"wl":536,"qe":7.05},{"id":9002236,"wl":538,"qe":6.7},{"id":9002236,"wl":540,"qe":6.4},
{"id":9002236,"wl":542.5,"qe":6.05},{"id":9002236,"wl":545,"qe":5.75},{"id":9002236,"wl":547.5,"qe":5.47},{"id":9002236,"wl":550,"qe":5.2},{"id":9002236,"wl":552.5,"qe":4.95},{"id":9002236,"wl":555,"qe":4.7},{"id":9002236,"wl":557.5,"qe":4.47},{"id":9002236,"wl":560,"qe":4.25},{"id":9002236,"wl":562.5,"qe":4.05},{"id":9002236,"wl":565,"qe":3.85},{"id":9002236,"wl":567.5,"qe":3.65},{"id":9002236,"wl":570,"qe":3.45},{"id":9002236,"wl":572.5,"qe":3.27},{"id":9002236,"wl":575,"qe":3.1},{"id":9002236,"wl":577.5,"qe":2.92},{"id":9002236,"wl":580,"qe":2.75},{"id":9002236,"wl":582.5,"qe":2.6},{"id":9002236,"wl":585,"qe":2.45},{"id":9002236,"wl":587.5,"qe":2.3},{"id":9002236,"wl":590,"qe":2.15},{"id":9002236,"wl":592.5,"qe":2.02},{"id":9002236,"wl":595,"qe":1.9},{"id":9002236,"wl":597.5,"qe":1.8},{"id":9002236,"wl":600,"qe":1.7},{"id":9002236,"wl":602.5,"qe":1.57},{"id":9002236,"wl":605,"qe":1.45},{"id":9002236,"wl":607.5,"qe":1.32},{"id":9002236,"wl":610,"qe":1.2},{"id":9002236,"wl":612.5,"qe":1.07},{"id":9002236,"wl":615,"qe":0.95},{"id":9002236,"wl":617.5,"qe":0.85},{"id":9002236,"wl":620,"qe":0.75},{"id":9002236,"wl":622.5,"qe":0.65},{"id":9002236,"wl":625,"qe":0.55},{"id":9002236,"wl":627.5,"qe":0.47},{"id":9002236,"wl":630,"qe":0.4},{"id":9002236,"wl":632.5,"qe":0.35},{"id":9002236,"wl":635,"qe":0.3},{"id":9002236,"wl":637.5,"qe":0.27},{"id":9002236,"wl":640,"qe":0.25},{"id":9002236,"wl":642.5,"qe":0.22},{"id":9002236,"wl":645,"qe":0.2},{"id":9002236,"wl":647.5,"qe":0.19},{"id":9002236,"wl":650,"qe":0.18},{"id":9002236,"wl":652.5,"qe":0.17},{"id":9002236,"wl":655,"qe":0.17},{"id":9002236,"wl":657.5,"qe":0.16},{"id":9002236,"wl":660,"qe":0.16},{"id":9002236,"wl":662.5,"qe":0.16},{"id":9002236,"wl":665,"qe":0.15},{"id":9002236,"wl":667.5,"qe":0.16},{"id":9002236,"wl":670,"qe":0.15},{"id":9002236,"wl":672.5,"qe":0.15},{"id":9002236,"wl":675,"qe":0.16},{"id":9002236,"wl":677.5,"qe":0.15},{"id":9002236,"wl":680,"qe":0.15},{"id":9002236,"wl":682.5,"qe":0.14},{"id":9002236,"wl":685,"qe":0.15},{"id":9002236,"wl":687.5,"qe":0.15},{"id":9002236,"wl":690,"qe":0.14},{"id":9002236,"wl":692.5,"qe":0.15},{"id":9002236,"wl":695,"qe":0.15},{"id":9002236,"wl":697.5,"qe":0.14},{"id":9002236,"wl":700,"qe":0.15},{"id":9002236,"wl":702.5,"qe":0.14},{"id":9002236,"wl":705,"qe":0.15},{"id":9002236,"wl":707.5,"qe":0.15},{"id":9002236,"wl":710,"qe":0.14},{"id":9002236,"wl":712.5,"qe":0.15},{"id":9002236,"wl":715,"qe":0.14},{"id":9002236,"wl":717.5,"qe":0.15},{"id":9002236,"wl":720,"qe":0.15},{"id":9002236,"wl":722.5,"qe":0.14},{"id":9002236,"wl":725,"qe":0.15},{"id":9002236,"wl":727.5,"qe":0.14},{"id":9002236,"wl":730,"qe":0.15},{"id":9002236,"wl":732.5,"qe":0.15},{"id":9002236,"wl":735,"qe":0.14},{"id":9002236,"wl":737.5,"qe":0.15},{"id":9002236,"wl":740,"qe":0.14},{"id":9002236,"wl":742.5,"qe":0.15},{"id":9002236,"wl":745,"qe":0.15},{"id":9002236,"wl":747.5,"qe":0.14},{"id":9002236,"wl":750,"qe":0.15},{"id":9002236,"wl":752.5,"qe":0.14},{"id":9002236,"wl":755,"qe":0.15},{"id":9002236,"wl":757.5,"qe":0.15},{"id":9002236,"wl":760,"qe":0.14},{"id":9002236,"wl":762.5,"qe":0.15},{"id":9002236,"wl":765,"qe":0.14},{"id":9002236,"wl":767.5,"qe":0.15},{"id":9002236,"wl":770,"qe":0.15},{"id":9002236,"wl":772.5,"qe":0.14},{"id":9002236,"wl":775,"qe":0.15},{"id":9002236,"wl":777.5,"qe":0.14},{"id":9002236,"wl":780,"qe":0.15},{"id":9002236,"wl":782.5,"qe":0.15},{"id":9002236,"wl":785,"qe":0.14},{"id":9002236,"wl":787.5,"qe":0.15},{"id":9002236,"wl":790,"qe":0.14},{"id":9002236,"wl":792.5,"qe":0.15},{"id":9002236,"wl":795,"qe":0.15},{"id":9002236,"wl":797.5,"qe":0.14},{"id":9002236,"wl":800,"qe":0.15},
{"id":9002237,"wl":250,"qe":6.8},{"id":9002237,"wl":252,"qe":8.65},{"id":9002237,"wl":254,"qe":9.5},{"id":9002237,"wl":256,"qe":10.35},{"id":9002237,"wl":258,"qe":11.25},{"id":9002237,"wl":260,"qe":12.0},{"id":9002237,"wl":262,"qe":13.0},{"id":9002237,"wl":264,"qe":13.4},{"id":9002237,"wl":266,"qe":13.8},{"id":9002237,"wl":268,"qe":14.3},{"id":9002237,"wl":270,"qe":14.8},{"id":9002237,"wl":272,"qe":15.3},{"id":9002237,"wl":274,"qe":15.8},{"id":9002237,"wl":276,"qe":16.2},{"id":9002237,"wl":278,"qe":16.6},{"id":9002237,"wl":280,"qe":17.1},{"id":9002237,"wl":282,"qe":17.5},{"id":9002237,"wl":284,"qe":17.9},{"id":9002237,"wl":286,"qe":18.3},{"id":9002237,"wl":288,"qe":18.6},{"id":9002237,"wl":290,"qe":18.9},{"id":9002237,"wl":292,"qe":19.1},{"id":9002237,"wl":294,"qe":19.3},{"id":9002237,"wl":296,"qe":19.4},{"id":9002237,"wl":298,"qe":19.45},{"id":9002237,"wl":300,"qe":19.5},
{"id":9002237,"wl":302.5,"qe":19.55},{"id":9002237,"wl":305,"qe":19.6},{"id":9002237,"wl":307.5,"qe":19.65},{"id":9002237,"wl":310,"qe":19.7},{"id":9002237,"wl":312.5,"qe":19.77},{"id":9002237,"wl":315,"qe":19.85},{"id":9002237,"wl":317.5,"qe":19.95},{"id":9002237,"wl":320,"qe":20.1},{"id":9002237,"wl":322.5,"qe":20.27},{"id":9002237,"wl":325,"qe":20.45},{"id":9002237,"wl":327.5,"qe":20.6},{"id":9002237,"wl":330,"qe":20.75},{"id":9002237,"wl":332.5,"qe":20.87},{"id":9002237,"wl":335,"qe":20.95},{"id":9002237,"wl":337.5,"qe":21.0},{"id":9002237,"wl":340,"qe":21.0},{"id":9002237,"wl":342.5,"qe":21.0},{"id":9002237,"wl":345,"qe":20.95},{"id":9002237,"wl":347.5,"qe":20.88},{"id":9002237,"wl":350,"qe":20.8},{"id":9002237,"wl":352.5,"qe":20.7},{"id":9002237,"wl":355,"qe":20.6},{"id":9002237,"wl":357.5,"qe":20.6},{"id":9002237,"wl":360,"qe":20.75},{"id":9002237,"wl":362.5,"qe":21.1},{"id":9002237,"wl":365,"qe":21.5},{"id":9002237,"wl":367.5,"qe":21.78},{"id":9002237,"wl":370,"qe":22.0},{"id":9002237,"wl":372.5,"qe":22.17},{"id":9002237,"wl":375,"qe":22.3},{"id":9002237,"wl":377.5,"qe":22.42},{"id":9002237,"wl":380,"qe":22.5},{"id":9002237,"wl":382.5,"qe":22.57},{"id":9002237,"wl":385,"qe":22.6},{"id":9002237,"wl":387.5,"qe":22.57},{"id":9002237,"wl":390,"qe":22.5},{"id":9002237,"wl":392.5,"qe":22.38},{"id":9002237,"wl":395,"qe":22.25},{"id":9002237,"wl":397.5,"qe":22.12},{"id":9002237,"wl":400,"qe":22.0},{"id":9002237,"wl":402.5,"qe":21.85},{"id":9002237,"wl":405,"qe":21.7},{"id":9002237,"wl":407.5,"qe":21.57},{"id":9002237,"wl":410,"qe":21.45},{"id":9002237,"wl":412.5,"qe":21.3},{"id":9002237,"wl":415,"qe":21.15},{"id":9002237,"wl":417.5,"qe":21.0},{"id":9002237,"wl":420,"qe":20.85},{"id":9002237,"wl":422.5,"qe":20.67},{"id":9002237,"wl":425,"qe":20.5},{"id":9002237,"wl":427.5,"qe":20.35},{"id":9002237,"wl":430,"qe":20.2},{"id":9002237,"wl":432.5,"qe":20.02},{"id":9002237,"wl":435,"qe":19.85},{"id":9002237,"wl":437.5,"qe":19.67},{"id":9002237,"wl":440,"qe":19.5},{"id":9002237,"wl":442.5,"qe":19.3},{"id":9002237,"wl":445,"qe":19.1},{"id":9002237,"wl":447.5,"qe":18.85},{"id":9002237,"wl":450,"qe":18.55},{"id":9002237,"wl":452.5,"qe":18.2},{"id":9002237,"wl":455,"qe":17.85},{"id":9002237,"wl":457.5,"qe":17.52},{"id":9002237,"wl":460,"qe":17.2},{"id":9002237,"wl":462.5,"qe":16.85},{"id":9002237,"wl":465,"qe":16.5},{"id":9002237,"wl":467.5,"qe":16.15},{"id":9002237,"wl":470,"qe":15.8},{"id":9002237,"wl":472.5,"qe":15.47},{"id":9002237,"wl":475,"qe":15.15},{"id":9002237,"wl":477.5,"qe":14.88},{"id":9002237,"wl":480,"qe":14.65},{"id":9002237,"wl":482.5,"qe":14.45},{"id":9002237,"wl":485,"qe":14.25},{"id":9002237,"wl":487.5,"qe":14.05},{"id":9002237,"wl":490,"qe":13.85},{"id":9002237,"wl":492.5,"qe":13.67},{"id":9002237,"wl":495,"qe":13.5},{"id":9002237,"wl":497.5,"qe":13.3},{"id":9002237,"wl":500,"qe":13.1},
{"id":9002237,"wl":502,"qe":12.95},{"id":9002237,"wl":504,"qe":12.75},{"id":9002237,"wl":506,"qe":12.55},{"id":9002237,"wl":508,"qe":12.35},{"id":9002237,"wl":510,"qe":12.15},{"id":9002237,"wl":512,"qe":11.75},{"id":9002237,"wl":514,"qe":11.2},{"id":9002237,"wl":516,"qe":10.65},{"id":9002237,"wl":518,"qe":10.15},{"id":9002237,"wl":520,"qe":9.6},{"id":9002237,"wl":522,"qe":9.05},{"id":9002237,"wl":524,"qe":8.55},{"id":9002237,"wl":526,"qe":8.05},{"id":9002237,"wl":528,"qe":7.65},{"id":9002237,"wl":530,"qe":7.25},{"id":9002237,"wl":532,"qe":6.9},{"id":9002237,"wl":534,"qe":6.55},{"id":9002237,"wl":536,"qe":6.25},{"id":9002237,"wl":538,"qe":5.95},{"id":9002237,"wl":540,"qe":5.65},
{"id":9002237,"wl":542.5,"qe":5.35},{"id":9002237,"wl":545,"qe":5.05},{"id":9002237,"wl":547.5,"qe":4.82},{"id":9002237,"wl":550,"qe":4.6},{"id":9002237,"wl":552.5,"qe":4.37},{"id":9002237,"wl":555,"qe":4.15},{"id":9002237,"wl":557.5,"qe":3.95},{"id":9002237,"wl":560,"qe":3.75},{"id":9002237,"wl":562.5,"qe":3.57},{"id":9002237,"wl":565,"qe":3.4},{"id":9002237,"wl":567.5,"qe":3.25},{"id":9002237,"wl":570,"qe":3.1},{"id":9002237,"wl":572.5,"qe":2.95},{"id":9002237,"wl":575,"qe":2.8},{"id":9002237,"wl":577.5,"qe":2.65},{"id":9002237,"wl":580,"qe":2.5},{"id":9002237,"wl":582.5,"qe":2.37},{"id":9002237,"wl":585,"qe":2.25},{"id":9002237,"wl":587.5,"qe":2.12},{"id":9002237,"wl":590,"qe":2.0},{"id":9002237,"wl":592.5,"qe":1.9},{"id":9002237,"wl":595,"qe":1.8},{"id":9002237,"wl":597.5,"qe":1.71},{"id":9002237,"wl":600,"qe":1.62},{"id":9002237,"wl":602.5,"qe":1.51},{"id":9002237,"wl":605,"qe":1.4},{"id":9002237,"wl":607.5,"qe":1.31},{"id":9002237,"wl":610,"qe":1.22},{"id":9002237,"wl":612.5,"qe":1.15},{"id":9002237,"wl":615,"qe":1.08},{"id":9002237,"wl":617.5,"qe":1.0},{"id":9002237,"wl":620,"qe":0.92},{"id":9002237,"wl":622.5,"qe":0.85},{"id":9002237,"wl":625,"qe":0.78},{"id":9002237,"wl":627.5,"qe":0.72},{"id":9002237,"wl":630,"qe":0.66},{"id":9002237,"wl":632.5,"qe":0.6},{"id":9002237,"wl":635,"qe":0.55},{"id":9002237,"wl":637.5,"qe":0.5},{"id":9002237,"wl":640,"qe":0.45},{"id":9002237,"wl":642.5,"qe":0.41},{"id":9002237,"wl":645,"qe":0.38},{"id":9002237,"wl":647.5,"qe":0.35},{"id":9002237,"wl":650,"qe":0.32},{"id":9002237,"wl":652.5,"qe":0.3},{"id":9002237,"wl":655,"qe":0.28},{"id":9002237,"wl":657.5,"qe":0.26},{"id":9002237,"wl":660,"qe":0.25},{"id":9002237,"wl":662.5,"qe":0.23},{"id":9002237,"wl":665,"qe":0.22},{"id":9002237,"wl":667.5,"qe":0.21},{"id":9002237,"wl":670,"qe":0.2},{"id":9002237,"wl":672.5,"qe":0.19},{"id":9002237,"wl":675,"qe":0.18},{"id":9002237,"wl":677.5,"qe":0.17},{"id":9002237,"wl":680,"qe":0.17},{"id":9002237,"wl":682.5,"qe":0.16},{"id":9002237,"wl":685,"qe":0.16},{"id":9002237,"wl":687.5,"qe":0.15},{"id":9002237,"wl":690,"qe":0.15},{"id":9002237,"wl":692.5,"qe":0.14},{"id":9002237,"wl":695,"qe":0.15},{"id":9002237,"wl":697.5,"qe":0.14},{"id":9002237,"wl":700,"qe":0.14},{"id":9002237,"wl":702.5,"qe":0.15},{"id":9002237,"wl":705,"qe":0.14},{"id":9002237,"wl":707.5,"qe":0.14},{"id":9002237,"wl":710,"qe":0.13},{"id":9002237,"wl":712.5,"qe":0.14},{"id":9002237,"wl":715,"qe":0.14},{"id":9002237,"wl":717.5,"qe":0.15},{"id":9002237,"wl":720,"qe":0.14},{"id":9002237,"wl":722.5,"qe":0.14},{"id":9002237,"wl":725,"qe":0.13},{"id":9002237,"wl":727.5,"qe":0.14},{"id":9002237,"wl":730,"qe":0.14},{"id":9002237,"wl":732.5,"qe":0.15},{"id":9002237,"wl":735,"qe":0.14},{"id":9002237,"wl":737.5,"qe":0.14},{"id":9002237,"wl":740,"qe":0.13},{"id":9002237,"wl":742.5,"qe":0.14},{"id":9002237,"wl":745,"qe":0.14},{"id":9002237,"wl":747.5,"qe":0.15},{"id":9002237,"wl":750,"qe":0.14},{"id":9002237,"wl":752.5,"qe":0.14},{"id":9002237,"wl":755,"qe":0.13},{"id":9002237,"wl":757.5,"qe":0.14},{"id":9002237,"wl":760,"qe":0.14},{"id":9002237,"wl":762.5,"qe":0.15},{"id":9002237,"wl":765,"qe":0.14},{"id":9002237,"wl":767.5,"qe":0.14},{"id":9002237,"wl":770,"qe":0.13},{"id":9002237,"wl":772.5,"qe":0.14},{"id":9002237,"wl":775,"qe":0.14},{"id":9002237,"wl":777.5,"qe":0.15},{"id":9002237,"wl":780,"qe":0.14},{"id":9002237,"wl":782.5,"qe":0.14},{"id":9002237,"wl":785,"qe":0.13},{"id":9002237,"wl":787.5,"qe":0.14},{"id":9002237,"wl":790,"qe":0.14},{"id":9002237,"wl":792.5,"qe":0.15},{"id":9002237,"wl":795,"qe":0.14},{"id":9002237,"wl":797.5,"qe":0.14},{"id":9002237,"wl":800,"qe":0.13}
]},
"layer": [
{
"mark": {"type": "point", "filled": true, "opacity": 1, "size": 289, "strokeWidth": 0},
"encoding": {
"x": {"field": "wl", "type": "quantitative", "scale": {"domain": [250, 800], "nice": false, "zero": false},
"axis": {"orient": "bottom", "values": [300, 400, 500, 600, 700, 800], "ticks": false, "domain": false, "grid": true, "gridDash": [2, 3], "gridColor": "#000", "gridWidth": 1.3, "gridOpacity": 1, "labelPadding": 10, "labelFlush": false, "labelOverlap": false, "labelFont": "Liberation Sans", "labelFontSize": 46, "labelColor": "#000", "title": "wavelength [nm]", "titleFont": "Liberation Sans", "titleFontSize": 46, "titleFontWeight": "normal", "titleColor": "#000", "titleAlign": "right", "titleBaseline": "alphabetic", "titleX": 1252, "titleY": 81}},
"y": {"field": "qe", "type": "quantitative", "scale": {"domain": [0, 30], "nice": false, "zero": false},
"axis": {"orient": "left", "values": [0, 5, 10, 15, 20, 25, 30], "ticks": false, "domain": false, "grid": true, "gridDash": [2, 3], "gridColor": "#000", "gridWidth": 1.3, "gridOpacity": 1, "labelPadding": 8, "labelFlush": false, "labelOverlap": false, "labelFont": "Liberation Sans", "labelFontSize": 46, "labelColor": "#000", "title": "QE [%]", "titleFont": "Liberation Sans", "titleFontSize": 46, "titleFontWeight": "normal", "titleColor": "#000", "titleAngle": 270, "titleAlign": "right", "titleBaseline": "alphabetic", "titleX": -94, "titleY": -1}},
"color": {"field": "id", "type": "nominal",
"scale": {"domain": [9002232, 9002233, 9002234, 9002235, 9002236, 9002237], "range": ["#000000", "#ff0000", "#00ff00", "#0000ff", "#cc00cc", "#ff9900"]},
"legend": {"orient": "none", "legendX": 860, "legendY": 4, "title": "MM", "titleOrient": "right", "titleFont": "Liberation Sans", "titleFontSize": 46, "titleColor": "#ffffff", "titleOpacity": 0, "titlePadding": 23, "direction": "vertical", "labelFont": "Liberation Sans", "labelFontSize": 46, "labelColor": "#000", "labelLimit": 0, "symbolSize": 289, "symbolStrokeWidth": 0, "symbolOpacity": 1, "padding": 10, "rowPadding": 21, "symbolOffset": 17, "labelOffset": 24, "strokeColor": "#000", "fillColor": "#fff", "encode": {"legend": {"update": {"strokeWidth": {"value": 2}}}}}},
"shape": {"field": "id", "type": "nominal",
"scale": {"domain": [9002232, 9002233, 9002234, 9002235, 9002236, 9002237], "range": ["circle", "square", "triangle-up", "triangle-down", "M-1,-0.6L-0.6,-1L0,-0.4L0.6,-1L1,-0.6L0.4,0L1,0.6L0.6,1L0,0.4L-0.6,1L-1,0.6L-0.4,0Z", "M0,-1L0.28,-0.39L0.95,-0.31L0.46,0.15L0.59,0.81L0,0.48L-0.59,0.81L-0.46,0.15L-0.95,-0.31L-0.28,-0.39Z"]}}
}
},
{
"mark": {"type": "point", "opacity": 0},
"encoding": {
"x": {"field": "wl", "type": "quantitative", "axis": {"orient": "bottom", "values": [260, 280, 300, 320, 340, 360, 380, 400, 420, 440, 460, 480, 500, 520, 540, 560, 580, 600, 620, 640, 660, 680, 700, 720, 740, 760, 780, 800], "ticks": true, "tickSize": -12, "tickWidth": 1.5, "tickColor": "#000", "labels": false, "domain": false, "grid": false, "title": null}},
"y": {"field": "qe", "type": "quantitative", "axis": {"orient": "left", "values": [0, 1, 2, 3, 4, 5, 6, 7, 8, 9, 10, 11, 12, 13, 14, 15, 16, 17, 18, 19, 20, 21, 22, 23, 24, 25, 26, 27, 28, 29, 30], "ticks": true, "tickSize": -19, "tickWidth": 1.5, "tickColor": "#000", "labels": false, "domain": false, "grid": false, "title": null}}
}
},
{
"mark": {"type": "point", "opacity": 0},
"encoding": {
"x": {"field": "wl", "type": "quantitative", "axis": {"orient": "bottom", "values": [300, 400, 500, 600, 700, 800], "ticks": true, "tickSize": -24, "tickWidth": 1.5, "tickColor": "#000", "labels": false, "domain": false, "grid": false, "title": null}},
"y": {"field": "qe", "type": "quantitative", "axis": {"orient": "left", "values": [0, 5, 10, 15, 20, 25, 30], "ticks": true, "tickSize": -38, "tickWidth": 1.5, "tickColor": "#000", "labels": false, "domain": false, "grid": false, "title": null}}
}
}
],
"resolve": {"axis": {"x": "independent", "y": "independent"}},
"config": {"view": {"stroke": "#000", "strokeWidth": 2}}
}
